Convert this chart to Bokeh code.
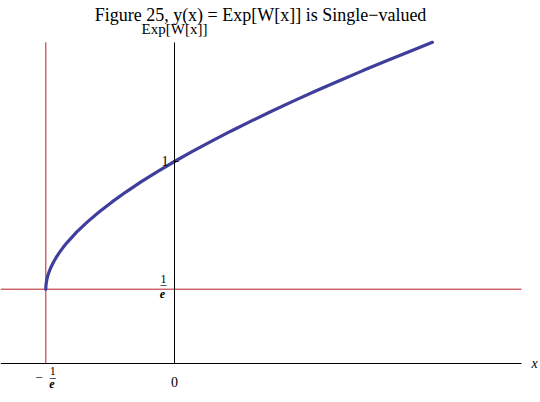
from bokeh.plotting import figure
from bokeh.models import Range1d, FixedTicker, ColumnDataSource
from bokeh.core.properties import value
from bokeh.embed import file_html
from bokeh.resources import INLINE

# curve points: y = Exp[W[x]]
curve_x = [-0.36788, -0.367873, -0.367811, -0.367682, -0.367487, -0.367227, -0.366516,
           -0.365555, -0.364350, -0.362907, -0.359329, -0.354861, -0.346574, -0.338287,
           -0.328810, -0.318196, -0.306495, -0.280009, -0.249672, -0.215762, -0.178515,
           -0.138141, -0.094824, -0.048729, 0.0, 0.051230, 0.104841, 0.160726, 0.218786,
           0.278929, 0.341068, 0.405141, 0.471062, 0.538767, 0.608198, 0.679295, 0.737330]
curve_y = [0.36788, 0.370, 0.375, 0.380, 0.385, 0.390, 0.400,
           0.410, 0.420, 0.430, 0.450, 0.470, 0.500, 0.525,
           0.550, 0.575, 0.600, 0.650, 0.700, 0.750, 0.800,
           0.850, 0.900, 0.950, 1.000, 1.050, 1.100, 1.150, 1.200,
           1.250, 1.300, 1.350, 1.400, 1.450, 1.500, 1.550, 1.590]

inv_e = 0.36788
# plot region of the original chart (data units)
plot_x_min, plot_x_max = -0.4974, 0.992
plot_y_min, plot_y_max = 0.0, 1.59

x_ticks = [0.0]
x_tick_labels = ["0"]
y_ticks = [1.0]
y_tick_labels = ["1"]
frac_num = "1"
frac_den = "e"
title_text = "Figure 25, y(x) = Exp[W[x]] is Single\u2212valued"
y_label = "Exp[W[x]]"
x_label = "x"

SERIF = "Liberation Serif"
RED = "#B41E28"
BLUE = "#3F3E9C"

p = figure(width=540, height=402, output_backend="svg", toolbar_location=None,
           x_range=Range1d(-0.49743, 1.04631), y_range=Range1d(-0.19307, 1.79703),
           min_border_left=0, min_border_right=0, min_border_top=0, min_border_bottom=0)
p.outline_line_color = None
p.grid.visible = False
p.background_fill_color = "white"
p.border_fill_color = "white"

# axes crossing at the origin
xa = p.xaxis[0]
xa.fixed_location = 0
xa.bounds = (plot_x_min, plot_x_max)
xa.ticker = FixedTicker(ticks=x_ticks)
xa.major_label_overrides = {t: s for t, s in zip(x_ticks, x_tick_labels)}
xa.major_tick_in = 0
xa.major_tick_out = 0
xa.minor_tick_line_color = None
xa.major_label_text_font = SERIF
xa.major_label_text_font_size = "14px"
xa.major_label_text_color = "black"
xa.major_label_standoff = 14
xa.axis_line_color = "black"

ya = p.yaxis[0]
ya.fixed_location = 0
ya.bounds = (plot_y_min, plot_y_max)
ya.ticker = FixedTicker(ticks=y_ticks)
ya.major_label_overrides = {t: s for t, s in zip(y_ticks, y_tick_labels)}
ya.major_tick_in = 4
ya.major_tick_out = 0
ya.minor_tick_line_color = None
ya.major_label_text_font = SERIF
ya.major_label_text_font_size = "14px"
ya.major_label_text_color = "black"
ya.major_label_standoff = 6
ya.axis_line_color = "black"

# red reference lines x = -1/e and y = 1/e
p.segment(x0=[-inv_e, plot_x_min], y0=[plot_y_min, inv_e],
          x1=[-inv_e, plot_x_max], y1=[plot_y_max, inv_e],
          line_color=RED, line_width=1, level="underlay")

# curve
p.line(curve_x, curve_y, line_color=BLUE, line_width=3.2, line_cap="round")

# fraction tick labels (1/e on y axis, -1/e on x axis)
num_src = ColumnDataSource(dict(x=[0.0, -inv_e], y=[inv_e, 0.0], t=[frac_num, frac_num],
                                xo=[-11, 7], yo=[-10, 8]))
p.text(x="x", y="y", text="t", x_offset="xo", y_offset="yo", source=num_src,
       text_font=value(SERIF), text_font_size="12px", text_align="center",
       text_baseline="middle", text_color="black")
bar_src = ColumnDataSource(dict(x=[0.0, -inv_e], y=[inv_e, 0.0], t=["\u2013", "\u2013"],
                                xo=[-11, 7], yo=[-5, 14]))
p.text(x="x", y="y", text="t", x_offset="xo", y_offset="yo", source=bar_src,
       text_font=value(SERIF), text_font_size="12px", text_align="center",
       text_baseline="middle", text_color="black")
den_src = ColumnDataSource(dict(x=[0.0, -inv_e], y=[inv_e, 0.0], t=[frac_den, frac_den],
                                xo=[-12, 6], yo=[5, 21]))
p.text(x="x", y="y", text="t", x_offset="xo", y_offset="yo", source=den_src,
       text_font=value(SERIF), text_font_size="12px", text_font_style="bold italic",
       text_align="center", text_baseline="middle", text_color="black")
p.text(x=[-inv_e], y=[0.0], text=["\u2212"], x_offset=-7, y_offset=15,
       text_font=value(SERIF), text_font_size="13px", text_align="center",
       text_baseline="middle", text_color="black")

# title and axis names
p.text(x=[0.0], y=[plot_y_max], text=[title_text], x_offset=86, y_offset=-27,
       text_font=value(SERIF), text_font_size="18px", text_align="center",
       text_baseline="alphabetic", text_color="black")
p.text(x=[0.0], y=[plot_y_max], text=[y_label], x_offset=0, y_offset=-13,
       text_font=value(SERIF), text_font_size="15px", text_align="center",
       text_baseline="alphabetic", text_color="black")
p.text(x=[plot_x_max], y=[0.0], text=[x_label], x_offset=13, y_offset=0,
       text_font=value(SERIF), text_font_size="14px", text_font_style="italic",
       text_align="center", text_baseline="middle", text_color="black")

open("out.html", "w").write(file_html(p, INLINE))
